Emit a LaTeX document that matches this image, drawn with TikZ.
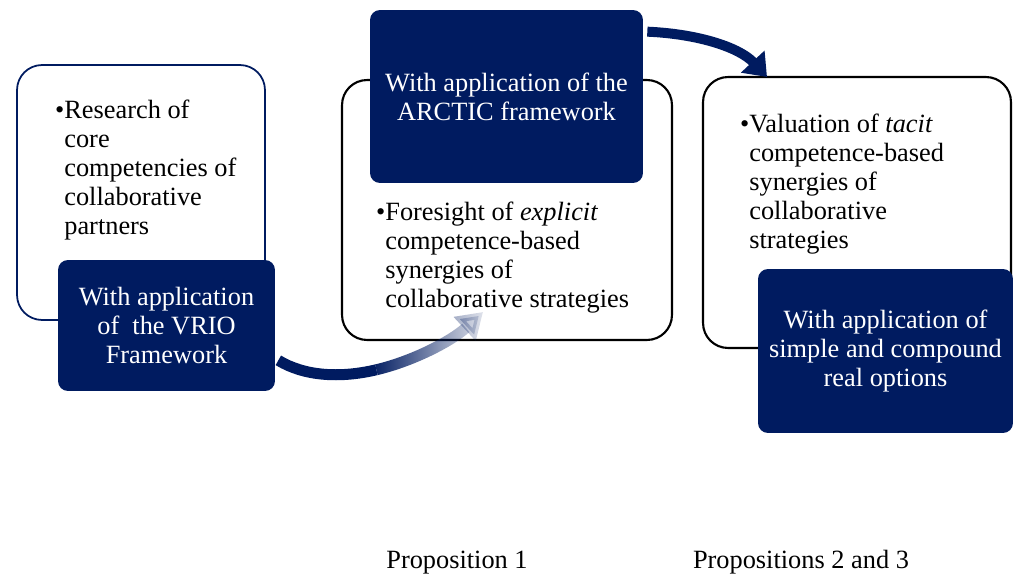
\documentclass[tikz,border=0pt]{standalone}
\usepackage{fontspec}
\setmainfont{Liberation Serif}
\usetikzlibrary{arrows.meta,calc,fadings}

\definecolor{navy}{RGB}{0,27,96}
\tikzfading[name=arcfade,left color=transparent!0,middle color=transparent!20,
  right color=transparent!92]

\begin{document}
\begin{tikzpicture}[x=0.02cm,y=-0.02cm,
    txt/.style={font=\fontsize{15}{16.5}\selectfont,inner sep=0pt,align=left},
    whitebox/.style={draw,fill=white,line width=1.2pt,rounded corners=0.5cm},
    darkbox/.style={fill=navy,text=white,rounded corners=0.2cm,align=center,
      font=\fontsize{15}{16.5}\selectfont},
    flow/.style={navy,line width=0.22cm}]
  \useasboundingbox (0,0) rectangle (1014,578);

  % left stage
  \node[whitebox,draw=navy,line width=1pt,minimum width=4.96cm,minimum height=5.1cm]
    (boxa) at (141,192.5) {};
  \node[darkbox,minimum width=4.34cm,minimum height=2.62cm] (vrio) at (166.5,325.5)
    {With application\\of\ \ the VRIO\\Framework};

  % middle stage
  \node[whitebox,minimum width=6.6cm,minimum height=5.2cm] (boxb) at (507,210) {};
  \node[darkbox,minimum width=5.46cm,minimum height=3.46cm] (arctic) at (506.5,96.5)
    {With application of the\\ARCTIC framework};

  % right stage
  \node[whitebox,minimum width=6.16cm,minimum height=5.42cm] (boxc) at (857,212.5) {};
  \node[darkbox,minimum width=5.1cm,minimum height=3.28cm] (options) at (885.5,351)
    {With application of\\simple and compound\\real options};

  % arcs between the stages
  \coordinate (a1m) at (376.4,369.75);
  \coordinate (a1e) at (483,312);
  \coordinate (a2e) at (767,77);
  \draw[flow] ($(vrio.south east)+(3,-31)$) .. controls (304,376) and (339.5,378.5) .. (a1m);
  \draw[flow,path fading=arcfade,-{Triangle[width=0.62cm,length=0.5cm]}]
    (a1m) .. controls (413.25,361) and (451.5,341) .. (a1e);
  \draw[flow,line width=0.2cm,-{Triangle[width=0.62cm,length=0.42cm]}]
    ($(arctic.north east)+(4,22)$) .. controls (700,34) and (740,48) .. (a2e);

  \node[txt,anchor=base west] (research) at (64,234)
    {\llap{\textbullet}Research of\\core\\competencies of\\collaborative\\partners};
  \node[txt,anchor=base west] (foresight) at (385,307)
    {\llap{\textbullet}Foresight of \emph{explicit}\\competence-based\\synergies of\\collaborative strategies};
  \node[txt,anchor=base west] (valuation) at (749,248)
    {\llap{\textbullet}Valuation of \emph{tacit}\\competence-based\\synergies of\\collaborative\\strategies};

  \node[txt,anchor=base] (prop1) at (457,568) {Proposition 1};
  \node[txt,anchor=base] (prop23) at (801,568) {Propositions 2 and 3};
\end{tikzpicture}
\end{document}
